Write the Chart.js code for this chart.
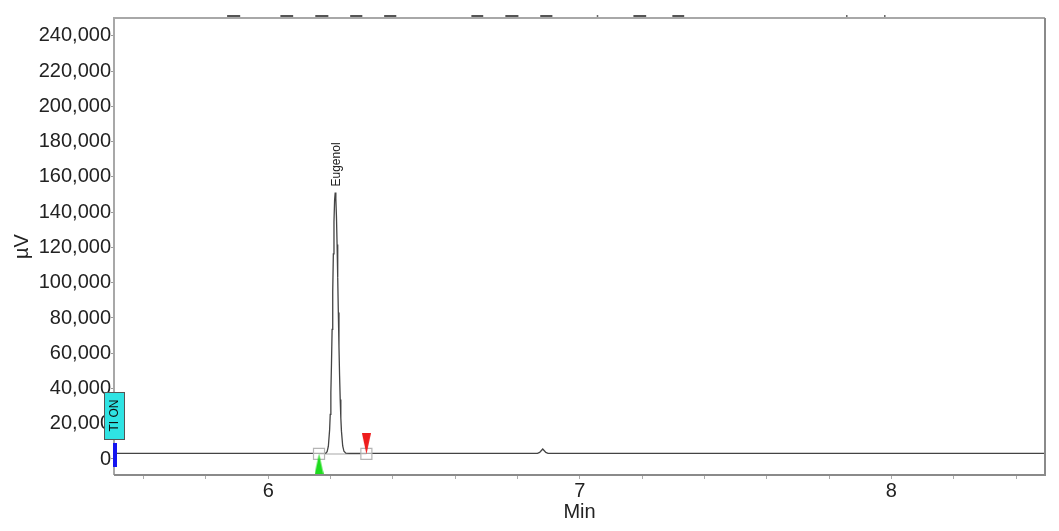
<!DOCTYPE html>
<html><head><meta charset="utf-8">
<script src="https://cdn.jsdelivr.net/npm/chart.js@4.4.1/dist/chart.umd.min.js"></script>
<style>html,body{margin:0;padding:0;background:#fff;} #wrap{width:1059px;height:531px;position:relative;}</style>
</head><body><div id="wrap"><canvas id="c" width="1059" height="531"></canvas></div>
<script>
// ---- data ----
const traceTime = [5.505, 5.8, 6.0, 6.15, 6.180, 6.185, 6.189, 6.193, 6.197, 6.199, 6.201, 6.203, 6.205, 6.207, 6.209, 6.211, 6.213, 6.215,
  6.217, 6.219, 6.221, 6.223, 6.225, 6.227, 6.229, 6.231, 6.233, 6.235, 6.239, 6.243, 6.249, 6.26, 6.4, 6.6, 6.8,
  6.864, 6.871, 6.876, 6.881, 6.886, 6.891, 6.898, 7.0, 7.5, 8.0, 8.493];
const traceSignal = [3200, 3200, 3200, 3200, 3200, 3380, 4160, 7240, 16500, 25300, 37700, 54000, 73500, 95100, 116400, 134600, 146900, 151200,
  147600, 137300, 121700, 102900, 83100, 64000, 47300, 33700, 23200, 15800, 7400, 4370, 3300, 3200, 3200, 3200, 3200,
  3200, 3700, 4700, 5700, 4700, 3700, 3200, 3200, 3200, 3200, 3200];

const peakNames = ['Eugenol'];
const peakApexTime = [6.215];
const peakApexSignal = [151200];
const peakStartTime = [6.163];
const peakEndTime = [6.315];
const peakBaseSignal = [2900];
const startMarkerSignal = [-2840];
const endMarkerSignal = [8680];

const eventTimes = [5.505];
const eventLabels = ['TI ON'];

const headerDashes = [[5.868, 5.910], [6.039, 6.080], [6.151, 6.193], [6.263, 6.302], [6.372, 6.411],
  [6.652, 6.690], [6.761, 6.803], [6.873, 6.912], [7.172, 7.213], [7.297, 7.335]];
const headerDots = [7.056, 7.856, 7.978];

const xTickValues = [5.6, 5.8, 6, 6.2, 6.4, 6.6, 6.8, 7, 7.2, 7.4, 7.6, 7.8, 8, 8.2, 8.4];
const xLabelValues = [6, 7, 8];
const yTickValues = [0, 20000, 40000, 60000, 80000, 100000, 120000, 140000, 160000, 180000, 200000, 220000, 240000];
const xRange = [5.505, 8.493];
const yRange = [-9080, 250200];

// ---- helpers ----
function triangleImage(color, up) {
  const c = document.createElement('canvas');
  c.width = 9; c.height = 21;
  const g = c.getContext('2d');
  g.beginPath();
  if (up) { g.moveTo(4.5, 0); g.lineTo(9, 21); g.lineTo(0, 21); }
  else { g.moveTo(0, 0); g.lineTo(9, 0); g.lineTo(4.5, 21); }
  g.closePath();
  g.fillStyle = color; g.fill();
  return c;
}
const FONT = '"Liberation Sans", Arial, Helvetica, sans-serif';
Chart.defaults.font.family = FONT;
Chart.defaults.color = '#222';

const overlay = {
  id: 'overlay',
  afterDatasetsDraw(chart) {
    const {ctx, chartArea: a, scales: {x, y}} = chart;
    ctx.save();
    // frame
    ctx.lineWidth = 2;
    ctx.strokeStyle = '#a8a8a8';
    ctx.beginPath(); ctx.moveTo(a.left, a.bottom); ctx.lineTo(a.left, a.top); ctx.lineTo(a.right, a.top); ctx.stroke();
    ctx.strokeStyle = '#8a8a8a';
    ctx.beginPath(); ctx.moveTo(a.right, a.top); ctx.lineTo(a.right, a.bottom); ctx.lineTo(a.left, a.bottom); ctx.stroke();
    // header dashes
    ctx.strokeStyle = '#555'; ctx.lineWidth = 2;
    headerDashes.forEach(([s, e]) => {
      ctx.beginPath(); ctx.moveTo(x.getPixelForValue(s), a.top - 2); ctx.lineTo(x.getPixelForValue(e), a.top - 2); ctx.stroke();
    });
    ctx.fillStyle = '#666';
    headerDots.forEach(t => { ctx.fillRect(x.getPixelForValue(t) - 0.5, a.top - 3, 1.5, 2); });
    // peak labels
    ctx.fillStyle = '#222';
    ctx.font = '12px ' + FONT;
    peakNames.forEach((n, i) => {
      const px = x.getPixelForValue(peakApexTime[i]);
      const py = y.getPixelForValue(peakApexSignal[i]);
      ctx.save(); ctx.translate(px + 1, py - 6); ctx.rotate(-Math.PI / 2);
      ctx.textAlign = 'left'; ctx.textBaseline = 'middle';
      ctx.fillText(n, 0, 0); ctx.restore();
    });
    // timed events
    eventTimes.forEach((t, i) => {
      const px = x.getPixelForValue(t);
      const zy = y.getPixelForValue(0);
      ctx.fillStyle = '#1515f0';
      ctx.fillRect(px - 1, zy - 16, 4, 24);
      ctx.fillStyle = '#2fe3e3';
      ctx.fillRect(px - 10, zy - 67, 20, 47);
      ctx.strokeStyle = '#555'; ctx.lineWidth = 1;
      ctx.strokeRect(px - 10 + 0.5, zy - 67 + 0.5, 20, 47);
      ctx.save(); ctx.translate(px, zy - 43.5); ctx.rotate(-Math.PI / 2);
      ctx.fillStyle = '#111'; ctx.font = '12px ' + FONT;
      ctx.textAlign = 'center'; ctx.textBaseline = 'middle';
      ctx.fillText(eventLabels[i], 0, 1); ctx.restore();
    });
    ctx.restore();
  }
};

new Chart(document.getElementById('c'), {
  type: 'scatter',
  data: {
    datasets: [
      {
        label: 'integration baseline',
        data: [{x: peakStartTime[0], y: peakBaseSignal[0]}, {x: peakEndTime[0], y: peakBaseSignal[0]}],
        showLine: true, borderColor: '#c4c4c4', borderWidth: 1.5, pointRadius: 0, order: 6
      },
      {
        label: 'trace',
        data: traceTime.map((t, i) => ({x: t, y: traceSignal[i]})),
        showLine: true, borderColor: '#444', borderWidth: 1.3, pointRadius: 0, tension: 0, order: 5
      },
      {
        label: 'peak bounds',
        data: [{x: peakStartTime[0], y: peakBaseSignal[0]}, {x: peakEndTime[0], y: peakBaseSignal[0]}],
        showLine: false, pointStyle: 'rect', pointRadius: 7.8, borderColor: '#b5b5b5', borderWidth: 1.2,
        backgroundColor: 'rgba(255,255,255,0.55)', order: 4, clip: false
      },
      {
        label: 'start',
        data: peakStartTime.map((t, i) => ({x: t, y: startMarkerSignal[i]})),
        showLine: false, pointStyle: triangleImage('#1edc1e', true), order: 3, clip: false
      },
      {
        label: 'end',
        data: peakEndTime.map((t, i) => ({x: t, y: endMarkerSignal[i]})),
        showLine: false, pointStyle: triangleImage('#ee1c1c', false), order: 2, clip: false
      }
    ]
  },
  options: {
    responsive: false, animation: false, devicePixelRatio: 1,
    layout: {padding: {top: 18, right: 14, left: 0, bottom: 0}},
    plugins: {legend: {display: false}, tooltip: {enabled: false}},
    scales: {
      x: {
        type: 'linear', min: xRange[0], max: xRange[1],
        afterBuildTicks: s => { s.ticks = xTickValues.map(v => ({value: v})); },
        afterFit: s => { s.height = 56; },
        grid: {drawOnChartArea: false, drawTicks: true, tickLength: 4, tickColor: '#aaa', tickWidth: 1},
        border: {display: false},
        ticks: {autoSkip: false, maxRotation: 0, padding: 0, font: {size: 20}, color: '#222',
          callback: v => xLabelValues.includes(v) ? String(v) : ''},
        title: {display: true, text: 'Min', font: {size: 20}, color: '#222', padding: {top: 0, bottom: 7}}
      },
      y: {
        type: 'linear', min: yRange[0], max: yRange[1],
        afterBuildTicks: s => { s.ticks = yTickValues.map(v => ({value: v})); },
        afterFit: s => { s.width = 114; },
        grid: {drawOnChartArea: false, drawTicks: true, tickLength: 3, tickColor: '#999', tickWidth: 1},
        border: {display: false},
        ticks: {autoSkip: false, padding: 0, font: {size: 20}, color: '#222',
          callback: v => v.toLocaleString('en-US')},
        title: {display: true, text: 'µV', font: {size: 20}, color: '#222', padding: {top: 10, bottom: 0}}
      }
    }
  },
  plugins: [overlay]
});
</script>
</body></html>
